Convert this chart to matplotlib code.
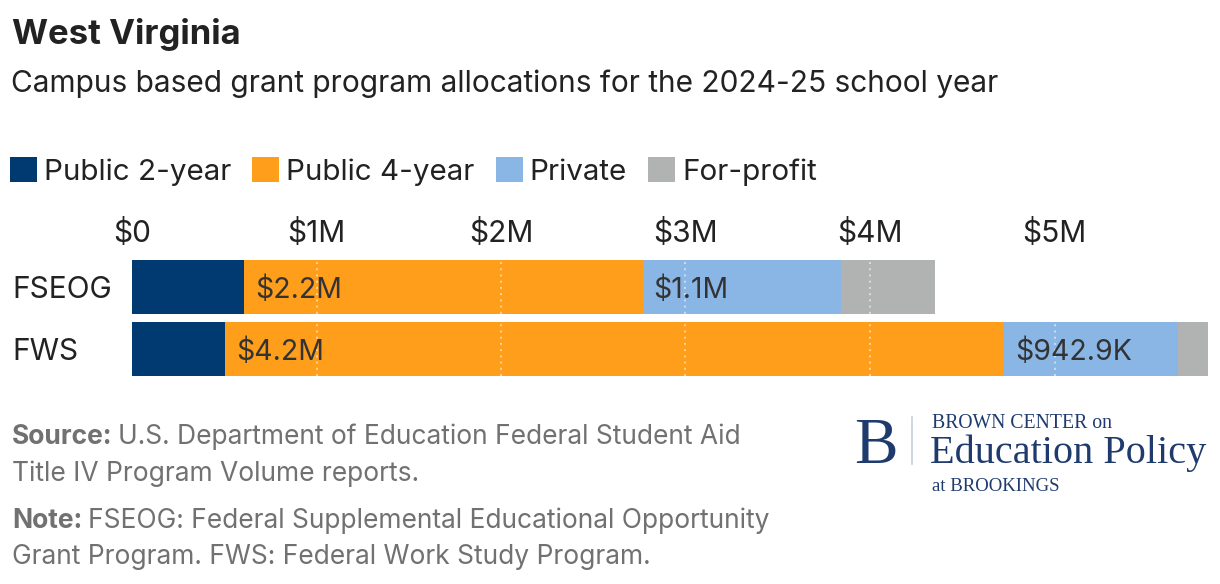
import matplotlib
matplotlib.use("Agg")
import matplotlib.pyplot as plt
from matplotlib.patches import Patch
from matplotlib.transforms import offset_copy
from matplotlib.lines import Line2D

plt.rcParams['font.family'] = ['Inter', 'DejaVu Sans']

# ---------------- data ----------------
programs = ["FSEOG", "FWS"]
sectors = ["Public 2-year", "Public 4-year", "Private", "For-profit"]
public_2yr = [0.607, 0.505]      # $M
public_4yr = [2.16, 4.22]
private = [1.075, 0.9429]
for_profit = [0.51, 0.163]
xticks = [0, 1, 2, 3, 4, 5]
xtick_labels = ["$0", "$1M", "$2M", "$3M", "$4M", "$5M"]
colors = ["#003a70", "#ff9e1b", "#8ab6e6", "#b1b3b3"]

W, H, DPI = 1220, 584, 100
fig = plt.figure(figsize=(W / DPI, H / DPI), dpi=DPI)


def fx(px):
    return px / W


def fy(py):
    return 1 - py / H


def pt(px):
    return px * 72 / DPI


# ---------------- axes ----------------
ax_left, ax_right = 132, 1211
ax_top, ax_bot = 260, 376
ax = fig.add_axes([fx(ax_left), fy(ax_bot), fx(ax_right - ax_left), (ax_bot - ax_top) / H])
xmax = (ax_right - ax_left) / 184.5
ax.set_xlim(0, xmax)
bh = 54 / 62
ax.set_ylim(1 + bh / 2, -bh / 2)

series = [public_2yr, public_4yr, private, for_profit]
ypos = list(range(len(programs)))
left = [0.0] * len(programs)
label_series = {1, 2}


def fmt(v):
    if v >= 1:
        return f"${v:.1f}M"
    return f"${v * 1000:.1f}K"


for si, vals in enumerate(series):
    ax.barh(ypos, vals, left=left, height=bh, color=colors[si], linewidth=0, zorder=2)
    if si in label_series:
        tr = offset_copy(ax.transData, fig=fig, x=11, y=0, units='dots')
        for yi, (l, v) in enumerate(zip(left, vals)):
            ax.text(l, yi, fmt(v), transform=tr, ha='left', va='center_baseline',
                    fontsize=20.5, color='#333333', zorder=4)
    left = [l + v for l, v in zip(left, vals)]

# dotted gridlines on top of bars
for t in xticks[1:]:
    ax.axvline(t, color='white', alpha=0.55, linestyle=(0, (1, 2.2)), linewidth=1.4, zorder=3)

ax.set_xticks(xticks)
ax.set_xticklabels(xtick_labels)
ax.xaxis.set_ticks_position('top')
ax.tick_params(axis='x', length=0, pad=pt(12), labelsize=21.5, colors='#222222',
               labeltop=True, labelbottom=False)
ax.set_yticks(ypos)
ax.set_yticklabels(programs)
ax.tick_params(axis='y', length=0, pad=pt(ax_left - 12), labelsize=21.5, colors='#222222')
for lab in ax.get_yticklabels():
    lab.set_horizontalalignment('left')
for s in ax.spines.values():
    s.set_visible(False)

# ---------------- titles ----------------
fig.text(fx(12), fy(44), "West Virginia", fontsize=25, fontweight='bold', color='#222222',
         va='baseline', ha='left')
fig.text(fx(11), fy(91.5), "Campus based grant program allocations for the 2024-25 school year",
         fontsize=21.5, color='#222222', va='baseline', ha='left')

# ---------------- legend ----------------
handles = [Patch(facecolor=c, edgecolor='none') for c in colors]
fs_leg = 21.3
em = fs_leg * DPI / 72
leg = fig.legend(handles, sectors, loc='upper left', bbox_to_anchor=(fx(10), fy(157)),
                 ncol=4, frameon=False, fontsize=fs_leg, handlelength=27 / em,
                 handleheight=27 / em, handletextpad=7 / em, columnspacing=21 / em,
                 borderpad=0, borderaxespad=0)
for t in leg.get_texts():
    t.set_color('#222222')

# ---------------- notes ----------------
renderer = fig.canvas.get_renderer()
gray = '#717171'
fs_note = 19


def rich_line(x, y, bold, rest):
    t1 = fig.text(fx(x), fy(y), bold, fontsize=fs_note, fontweight='bold', color=gray,
                  va='baseline', ha='left')
    bb = t1.get_window_extent(renderer=renderer)
    fig.text(fx(bb.x1 + 6), fy(y), rest, fontsize=fs_note, color=gray, va='baseline', ha='left')


rich_line(12, 444, "Source:", "U.S. Department of Education Federal Student Aid")
fig.text(fx(12), fy(481), "Title IV Program Volume reports.", fontsize=fs_note, color=gray,
         va='baseline', ha='left')
rich_line(12, 528, "Note:", "FSEOG: Federal Supplemental Educational Opportunity")
fig.text(fx(12), fy(564), "Grant Program. FWS: Federal Work Study Program.", fontsize=fs_note,
         color=gray, va='baseline', ha='left')

# ---------------- logo ----------------
navy = '#1f3b6e'
serif = ['Liberation Serif', 'DejaVu Serif']
fig.text(fx(854), fy(463), "B", fontsize=47, family=serif, color=navy, va='baseline', ha='left')
fig.add_artist(Line2D([fx(912), fx(912)], [fy(417), fy(464)], color='#c5cfdc', linewidth=1.2))
fig.text(fx(932), fy(428.5), "BROWN CENTER on", fontsize=14.2, family=serif, color=navy,
         va='baseline', ha='left')
fig.text(fx(930), fy(463), "Education Policy", fontsize=29, family=serif, color=navy,
         va='baseline', ha='left')
fig.text(fx(932), fy(491), "at BROOKINGS", fontsize=13.5, family=serif, color=navy,
         va='baseline', ha='left')

fig.savefig("out.png", dpi=DPI)
